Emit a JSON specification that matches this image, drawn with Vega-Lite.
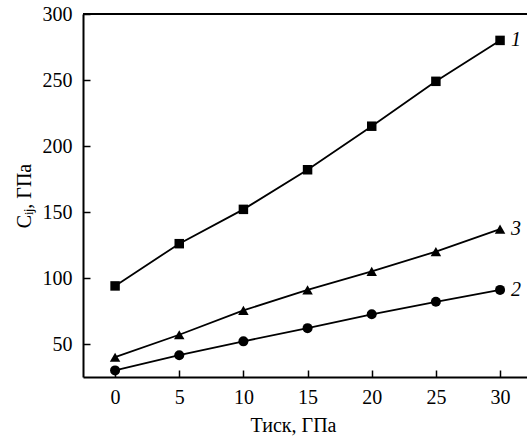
{
  "$schema": "https://vega.github.io/schema/vega-lite/v6.json",
  "autosize": "none",
  "width": 444,
  "height": 363,
  "padding": {"left": 83, "top": 14, "right": 0, "bottom": 62},
  "background": "white",
  "config": {
    "view": {"stroke": null},
    "axis": {
      "labelFont": "Liberation Serif",
      "labelFontSize": 20,
      "labelColor": "black",
      "titleFont": "Liberation Serif",
      "titleFontSize": 20,
      "titleFontWeight": "normal",
      "titleColor": "black",
      "domainColor": "black",
      "domainWidth": 2,
      "tickColor": "black",
      "tickWidth": 1.5,
      "grid": false
    }
  },
  "data": {
    "values": [
      {"p": 0, "c": 94, "s": "1"},
      {"p": 5, "c": 126, "s": "1"},
      {"p": 10, "c": 152, "s": "1"},
      {"p": 15, "c": 182, "s": "1"},
      {"p": 20, "c": 215, "s": "1"},
      {"p": 25, "c": 249, "s": "1"},
      {"p": 30, "c": 280, "s": "1"},
      {"p": 0, "c": 30, "s": "2"},
      {"p": 5, "c": 41.5, "s": "2"},
      {"p": 10, "c": 52, "s": "2"},
      {"p": 15, "c": 62, "s": "2"},
      {"p": 20, "c": 72.5, "s": "2"},
      {"p": 25, "c": 82, "s": "2"},
      {"p": 30, "c": 91, "s": "2"},
      {"p": 0, "c": 40, "s": "3"},
      {"p": 5, "c": 57, "s": "3"},
      {"p": 10, "c": 75.5, "s": "3"},
      {"p": 15, "c": 91, "s": "3"},
      {"p": 20, "c": 105, "s": "3"},
      {"p": 25, "c": 120, "s": "3"},
      {"p": 30, "c": 137, "s": "3"}
    ]
  },
  "layer": [
    {
      "mark": {"type": "line", "color": "black", "strokeWidth": 1.8, "clip": true},
      "encoding": {
        "x": {
          "field": "p", "type": "quantitative",
          "scale": {"domain": [-2.5, 32.1], "nice": false, "zero": false},
          "axis": {
            "orient": "bottom",
            "title": "Тиск, ГПа",
            "labelFont": "Liberation Serif",
            "labelFontSize": 20,
            "values": [0, 2.5, 5, 7.5, 10, 12.5, 15, 17.5, 20, 22.5, 25, 27.5, 30],
            "labelExpr": "datum.value % 5 === 0 ? datum.label : ''",
            "tickSize": -7,
            "labelPadding": 17,
            "titleX": 210,
            "titlePadding": 8,
            "encode": {"ticks": {"update": {"y2": {"signal": "datum.value % 5 === 0 ? -7 : -4"}}}}
          }
        },
        "y": {
          "field": "c", "type": "quantitative",
          "scale": {"domain": [25, 300], "nice": false, "zero": false},
          "axis": {
            "orient": "left",
            "title": "Cᵢⱼ, ГПа",
            "labelFont": "Liberation Serif",
            "labelFontSize": 20,
            "values": [50, 75, 100, 125, 150, 175, 200, 225, 250, 275, 300],
            "labelExpr": "datum.value % 50 === 0 ? datum.label : ''",
            "tickSize": -7,
            "labelPadding": 18,
            "titlePadding": 8,
            "encode": {"ticks": {"update": {"x2": {"signal": "datum.value % 50 === 0 ? 7 : 4"}}}}
          }
        },
        "detail": {"field": "s"}
      }
    },
    {
      "mark": {"type": "point", "filled": true, "color": "black", "opacity": 1},
      "encoding": {
        "x": {"field": "p", "type": "quantitative"},
        "y": {"field": "c", "type": "quantitative"},
        "shape": {
          "field": "s", "type": "nominal",
          "scale": {"domain": ["1", "2", "3"], "range": ["square", "circle", "triangle-up"]},
          "legend": null
        },
        "size": {
          "field": "s", "type": "nominal",
          "scale": {"domain": ["1", "2", "3"], "range": [90, 110, 120]},
          "legend": null
        }
      }
    },
    {
      "transform": [{"filter": "datum.p === 30"}],
      "mark": {"type": "text", "align": "left", "baseline": "middle", "dx": 11, "fontSize": 20, "fontStyle": "italic", "font": "Liberation Serif", "color": "black"},
      "encoding": {
        "x": {"field": "p", "type": "quantitative"},
        "y": {"field": "c", "type": "quantitative"},
        "text": {"field": "s"}
      }
    },
    {
      "mark": {"type": "rule", "color": "black", "strokeWidth": 2},
      "encoding": {"y": {"datum": 300}}
    }
  ]
}
